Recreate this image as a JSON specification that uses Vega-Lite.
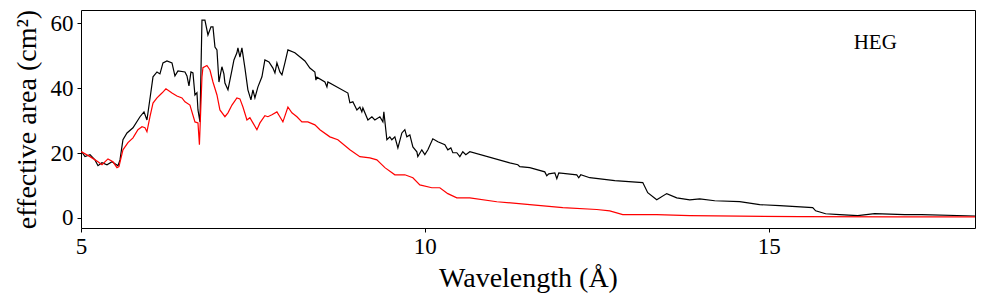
{
  "$schema": "https://vega.github.io/schema/vega-lite/v6.json",
  "width": 894,
  "height": 218,
  "autosize": {"type": "none"},
  "padding": {"left": 81, "top": 10, "right": 10, "bottom": 71},
  "background": "white",
  "config": {
    "view": {"stroke": "black", "strokeWidth": 1},
    "font": "Liberation Serif",
    "axis": {"grid": false, "domain": false, "tickColor": "black", "tickSize": 4, "labelColor": "black", "titleColor": "black", "labelFont": "Liberation Serif", "titleFont": "Liberation Serif", "labelFontSize": 23, "titleFontSize": 28, "titleFontWeight": "normal"}
  },
  "datasets": {
    "curves": [
      {"wavelength": 5.000, "area": 20.7, "curve": "upper"},
      {"wavelength": 5.058, "area": 18.9, "curve": "upper"},
      {"wavelength": 5.131, "area": 19.5, "curve": "upper"},
      {"wavelength": 5.203, "area": 17.9, "curve": "upper"},
      {"wavelength": 5.247, "area": 16.1, "curve": "upper"},
      {"wavelength": 5.305, "area": 17.0, "curve": "upper"},
      {"wavelength": 5.378, "area": 16.4, "curve": "upper"},
      {"wavelength": 5.451, "area": 17.3, "curve": "upper"},
      {"wavelength": 5.494, "area": 16.7, "curve": "upper"},
      {"wavelength": 5.538, "area": 16.1, "curve": "upper"},
      {"wavelength": 5.567, "area": 17.9, "curve": "upper"},
      {"wavelength": 5.610, "area": 24.1, "curve": "upper"},
      {"wavelength": 5.669, "area": 26.2, "curve": "upper"},
      {"wavelength": 5.756, "area": 27.8, "curve": "upper"},
      {"wavelength": 5.858, "area": 31.2, "curve": "upper"},
      {"wavelength": 5.916, "area": 32.7, "curve": "upper"},
      {"wavelength": 5.959, "area": 30.2, "curve": "upper"},
      {"wavelength": 6.017, "area": 38.9, "curve": "upper"},
      {"wavelength": 6.047, "area": 43.5, "curve": "upper"},
      {"wavelength": 6.105, "area": 45.0, "curve": "upper"},
      {"wavelength": 6.148, "area": 44.4, "curve": "upper"},
      {"wavelength": 6.192, "area": 47.8, "curve": "upper"},
      {"wavelength": 6.250, "area": 48.4, "curve": "upper"},
      {"wavelength": 6.323, "area": 47.8, "curve": "upper"},
      {"wavelength": 6.366, "area": 43.8, "curve": "upper"},
      {"wavelength": 6.410, "area": 45.3, "curve": "upper"},
      {"wavelength": 6.512, "area": 45.0, "curve": "upper"},
      {"wavelength": 6.541, "area": 43.8, "curve": "upper"},
      {"wavelength": 6.570, "area": 40.7, "curve": "upper"},
      {"wavelength": 6.599, "area": 45.0, "curve": "upper"},
      {"wavelength": 6.628, "area": 44.7, "curve": "upper"},
      {"wavelength": 6.657, "area": 37.9, "curve": "upper"},
      {"wavelength": 6.686, "area": 38.6, "curve": "upper"},
      {"wavelength": 6.701, "area": 33.3, "curve": "upper"},
      {"wavelength": 6.730, "area": 29.6, "curve": "upper"},
      {"wavelength": 6.759, "area": 61.0, "curve": "upper"},
      {"wavelength": 6.802, "area": 61.0, "curve": "upper"},
      {"wavelength": 6.846, "area": 56.4, "curve": "upper"},
      {"wavelength": 6.890, "area": 58.9, "curve": "upper"},
      {"wavelength": 6.919, "area": 58.9, "curve": "upper"},
      {"wavelength": 6.948, "area": 52.7, "curve": "upper"},
      {"wavelength": 6.977, "area": 51.8, "curve": "upper"},
      {"wavelength": 7.006, "area": 41.9, "curve": "upper"},
      {"wavelength": 7.049, "area": 46.6, "curve": "upper"},
      {"wavelength": 7.078, "area": 44.4, "curve": "upper"},
      {"wavelength": 7.093, "area": 41.6, "curve": "upper"},
      {"wavelength": 7.137, "area": 39.5, "curve": "upper"},
      {"wavelength": 7.195, "area": 45.6, "curve": "upper"},
      {"wavelength": 7.224, "area": 48.7, "curve": "upper"},
      {"wavelength": 7.267, "area": 50.9, "curve": "upper"},
      {"wavelength": 7.282, "area": 52.4, "curve": "upper"},
      {"wavelength": 7.311, "area": 49.6, "curve": "upper"},
      {"wavelength": 7.340, "area": 52.4, "curve": "upper"},
      {"wavelength": 7.384, "area": 46.2, "curve": "upper"},
      {"wavelength": 7.427, "area": 39.5, "curve": "upper"},
      {"wavelength": 7.471, "area": 36.4, "curve": "upper"},
      {"wavelength": 7.500, "area": 39.5, "curve": "upper"},
      {"wavelength": 7.529, "area": 37.0, "curve": "upper"},
      {"wavelength": 7.573, "area": 40.4, "curve": "upper"},
      {"wavelength": 7.631, "area": 43.5, "curve": "upper"},
      {"wavelength": 7.674, "area": 48.7, "curve": "upper"},
      {"wavelength": 7.733, "area": 48.1, "curve": "upper"},
      {"wavelength": 7.791, "area": 46.2, "curve": "upper"},
      {"wavelength": 7.820, "area": 44.7, "curve": "upper"},
      {"wavelength": 7.849, "area": 47.8, "curve": "upper"},
      {"wavelength": 7.892, "area": 45.0, "curve": "upper"},
      {"wavelength": 7.922, "area": 44.1, "curve": "upper"},
      {"wavelength": 7.965, "area": 47.8, "curve": "upper"},
      {"wavelength": 8.009, "area": 51.8, "curve": "upper"},
      {"wavelength": 8.110, "area": 50.9, "curve": "upper"},
      {"wavelength": 8.256, "area": 48.4, "curve": "upper"},
      {"wavelength": 8.328, "area": 46.2, "curve": "upper"},
      {"wavelength": 8.401, "area": 45.0, "curve": "upper"},
      {"wavelength": 8.416, "area": 42.5, "curve": "upper"},
      {"wavelength": 8.430, "area": 43.4, "curve": "upper"},
      {"wavelength": 8.547, "area": 41.9, "curve": "upper"},
      {"wavelength": 8.576, "area": 40.4, "curve": "upper"},
      {"wavelength": 8.590, "area": 41.9, "curve": "upper"},
      {"wavelength": 8.881, "area": 38.5, "curve": "upper"},
      {"wavelength": 8.910, "area": 35.5, "curve": "upper"},
      {"wavelength": 8.953, "area": 35.8, "curve": "upper"},
      {"wavelength": 9.012, "area": 33.3, "curve": "upper"},
      {"wavelength": 9.055, "area": 34.2, "curve": "upper"},
      {"wavelength": 9.084, "area": 32.7, "curve": "upper"},
      {"wavelength": 9.099, "area": 33.9, "curve": "upper"},
      {"wavelength": 9.172, "area": 30.2, "curve": "upper"},
      {"wavelength": 9.230, "area": 31.2, "curve": "upper"},
      {"wavelength": 9.273, "area": 30.2, "curve": "upper"},
      {"wavelength": 9.346, "area": 31.2, "curve": "upper"},
      {"wavelength": 9.390, "area": 29.6, "curve": "upper"},
      {"wavelength": 9.404, "area": 32.7, "curve": "upper"},
      {"wavelength": 9.448, "area": 24.1, "curve": "upper"},
      {"wavelength": 9.491, "area": 25.0, "curve": "upper"},
      {"wavelength": 9.520, "area": 24.1, "curve": "upper"},
      {"wavelength": 9.564, "area": 25.0, "curve": "upper"},
      {"wavelength": 9.608, "area": 21.6, "curve": "upper"},
      {"wavelength": 9.666, "area": 26.2, "curve": "upper"},
      {"wavelength": 9.709, "area": 27.2, "curve": "upper"},
      {"wavelength": 9.738, "area": 25.0, "curve": "upper"},
      {"wavelength": 9.782, "area": 25.6, "curve": "upper"},
      {"wavelength": 9.826, "area": 21.9, "curve": "upper"},
      {"wavelength": 9.884, "area": 20.4, "curve": "upper"},
      {"wavelength": 9.898, "area": 18.9, "curve": "upper"},
      {"wavelength": 9.956, "area": 21.0, "curve": "upper"},
      {"wavelength": 10.000, "area": 19.5, "curve": "upper"},
      {"wavelength": 10.044, "area": 21.0, "curve": "upper"},
      {"wavelength": 10.116, "area": 24.4, "curve": "upper"},
      {"wavelength": 10.189, "area": 23.5, "curve": "upper"},
      {"wavelength": 10.291, "area": 22.6, "curve": "upper"},
      {"wavelength": 10.334, "area": 21.0, "curve": "upper"},
      {"wavelength": 10.378, "area": 21.6, "curve": "upper"},
      {"wavelength": 10.407, "area": 20.1, "curve": "upper"},
      {"wavelength": 10.465, "area": 20.1, "curve": "upper"},
      {"wavelength": 10.509, "area": 18.9, "curve": "upper"},
      {"wavelength": 10.552, "area": 20.4, "curve": "upper"},
      {"wavelength": 10.596, "area": 19.5, "curve": "upper"},
      {"wavelength": 10.654, "area": 20.4, "curve": "upper"},
      {"wavelength": 11.235, "area": 17.0, "curve": "upper"},
      {"wavelength": 11.352, "area": 16.4, "curve": "upper"},
      {"wavelength": 11.381, "area": 15.8, "curve": "upper"},
      {"wavelength": 11.526, "area": 15.5, "curve": "upper"},
      {"wavelength": 11.744, "area": 14.2, "curve": "upper"},
      {"wavelength": 11.773, "area": 13.0, "curve": "upper"},
      {"wavelength": 11.802, "area": 13.6, "curve": "upper"},
      {"wavelength": 11.890, "area": 13.9, "curve": "upper"},
      {"wavelength": 11.919, "area": 12.1, "curve": "upper"},
      {"wavelength": 11.948, "area": 13.9, "curve": "upper"},
      {"wavelength": 12.209, "area": 13.3, "curve": "upper"},
      {"wavelength": 12.238, "area": 12.4, "curve": "upper"},
      {"wavelength": 12.267, "area": 13.3, "curve": "upper"},
      {"wavelength": 12.398, "area": 12.4, "curve": "upper"},
      {"wavelength": 12.762, "area": 11.5, "curve": "upper"},
      {"wavelength": 13.169, "area": 10.9, "curve": "upper"},
      {"wavelength": 13.241, "area": 7.8, "curve": "upper"},
      {"wavelength": 13.372, "area": 5.6, "curve": "upper"},
      {"wavelength": 13.517, "area": 7.5, "curve": "upper"},
      {"wavelength": 13.663, "area": 6.2, "curve": "upper"},
      {"wavelength": 13.852, "area": 5.6, "curve": "upper"},
      {"wavelength": 13.997, "area": 5.9, "curve": "upper"},
      {"wavelength": 14.215, "area": 5.3, "curve": "upper"},
      {"wavelength": 14.578, "area": 5.0, "curve": "upper"},
      {"wavelength": 14.869, "area": 4.1, "curve": "upper"},
      {"wavelength": 15.160, "area": 3.8, "curve": "upper"},
      {"wavelength": 15.640, "area": 3.2, "curve": "upper"},
      {"wavelength": 15.683, "area": 2.2, "curve": "upper"},
      {"wavelength": 15.828, "area": 1.3, "curve": "upper"},
      {"wavelength": 16.032, "area": 1.0, "curve": "upper"},
      {"wavelength": 16.294, "area": 0.7, "curve": "upper"},
      {"wavelength": 16.541, "area": 1.3, "curve": "upper"},
      {"wavelength": 16.977, "area": 1.0, "curve": "upper"},
      {"wavelength": 17.224, "area": 1.0, "curve": "upper"},
      {"wavelength": 18.000, "area": 0.6, "curve": "upper"},
      {"wavelength": 5.000, "area": 20.5, "curve": "lower"},
      {"wavelength": 5.131, "area": 18.9, "curve": "lower"},
      {"wavelength": 5.247, "area": 17.3, "curve": "lower"},
      {"wavelength": 5.305, "area": 16.4, "curve": "lower"},
      {"wavelength": 5.392, "area": 18.2, "curve": "lower"},
      {"wavelength": 5.465, "area": 17.3, "curve": "lower"},
      {"wavelength": 5.523, "area": 15.5, "curve": "lower"},
      {"wavelength": 5.552, "area": 15.8, "curve": "lower"},
      {"wavelength": 5.610, "area": 21.0, "curve": "lower"},
      {"wavelength": 5.683, "area": 23.2, "curve": "lower"},
      {"wavelength": 5.756, "area": 24.7, "curve": "lower"},
      {"wavelength": 5.828, "area": 27.2, "curve": "lower"},
      {"wavelength": 5.887, "area": 28.1, "curve": "lower"},
      {"wavelength": 5.930, "area": 27.8, "curve": "lower"},
      {"wavelength": 5.959, "area": 26.6, "curve": "lower"},
      {"wavelength": 6.003, "area": 31.2, "curve": "lower"},
      {"wavelength": 6.047, "area": 35.4, "curve": "lower"},
      {"wavelength": 6.105, "area": 37.0, "curve": "lower"},
      {"wavelength": 6.177, "area": 38.5, "curve": "lower"},
      {"wavelength": 6.235, "area": 39.8, "curve": "lower"},
      {"wavelength": 6.323, "area": 38.5, "curve": "lower"},
      {"wavelength": 6.395, "area": 37.6, "curve": "lower"},
      {"wavelength": 6.468, "area": 37.0, "curve": "lower"},
      {"wavelength": 6.512, "area": 35.8, "curve": "lower"},
      {"wavelength": 6.584, "area": 34.8, "curve": "lower"},
      {"wavelength": 6.657, "area": 29.6, "curve": "lower"},
      {"wavelength": 6.701, "area": 29.3, "curve": "lower"},
      {"wavelength": 6.722, "area": 22.6, "curve": "lower"},
      {"wavelength": 6.759, "area": 43.5, "curve": "lower"},
      {"wavelength": 6.773, "area": 46.3, "curve": "lower"},
      {"wavelength": 6.831, "area": 47.0, "curve": "lower"},
      {"wavelength": 6.875, "area": 45.6, "curve": "lower"},
      {"wavelength": 6.919, "area": 41.9, "curve": "lower"},
      {"wavelength": 6.977, "area": 37.9, "curve": "lower"},
      {"wavelength": 7.020, "area": 33.3, "curve": "lower"},
      {"wavelength": 7.093, "area": 31.2, "curve": "lower"},
      {"wavelength": 7.137, "area": 32.4, "curve": "lower"},
      {"wavelength": 7.195, "area": 34.8, "curve": "lower"},
      {"wavelength": 7.267, "area": 37.0, "curve": "lower"},
      {"wavelength": 7.311, "area": 36.7, "curve": "lower"},
      {"wavelength": 7.355, "area": 34.2, "curve": "lower"},
      {"wavelength": 7.413, "area": 30.2, "curve": "lower"},
      {"wavelength": 7.456, "area": 30.9, "curve": "lower"},
      {"wavelength": 7.500, "area": 29.3, "curve": "lower"},
      {"wavelength": 7.558, "area": 27.2, "curve": "lower"},
      {"wavelength": 7.602, "area": 29.3, "curve": "lower"},
      {"wavelength": 7.674, "area": 31.5, "curve": "lower"},
      {"wavelength": 7.718, "area": 31.2, "curve": "lower"},
      {"wavelength": 7.776, "area": 31.8, "curve": "lower"},
      {"wavelength": 7.849, "area": 32.7, "curve": "lower"},
      {"wavelength": 7.892, "area": 31.2, "curve": "lower"},
      {"wavelength": 7.936, "area": 29.6, "curve": "lower"},
      {"wavelength": 8.009, "area": 34.2, "curve": "lower"},
      {"wavelength": 8.067, "area": 32.4, "curve": "lower"},
      {"wavelength": 8.140, "area": 31.2, "curve": "lower"},
      {"wavelength": 8.212, "area": 29.6, "curve": "lower"},
      {"wavelength": 8.299, "area": 29.6, "curve": "lower"},
      {"wavelength": 8.401, "area": 28.7, "curve": "lower"},
      {"wavelength": 8.474, "area": 27.2, "curve": "lower"},
      {"wavelength": 8.619, "area": 25.0, "curve": "lower"},
      {"wavelength": 8.735, "area": 24.1, "curve": "lower"},
      {"wavelength": 8.910, "area": 21.0, "curve": "lower"},
      {"wavelength": 9.055, "area": 18.9, "curve": "lower"},
      {"wavelength": 9.201, "area": 18.5, "curve": "lower"},
      {"wavelength": 9.302, "area": 17.9, "curve": "lower"},
      {"wavelength": 9.419, "area": 15.5, "curve": "lower"},
      {"wavelength": 9.564, "area": 13.3, "curve": "lower"},
      {"wavelength": 9.709, "area": 13.3, "curve": "lower"},
      {"wavelength": 9.826, "area": 12.4, "curve": "lower"},
      {"wavelength": 9.927, "area": 10.2, "curve": "lower"},
      {"wavelength": 10.102, "area": 9.3, "curve": "lower"},
      {"wavelength": 10.218, "area": 9.3, "curve": "lower"},
      {"wavelength": 10.334, "area": 7.5, "curve": "lower"},
      {"wavelength": 10.465, "area": 6.2, "curve": "lower"},
      {"wavelength": 10.654, "area": 6.2, "curve": "lower"},
      {"wavelength": 11.047, "area": 5.0, "curve": "lower"},
      {"wavelength": 11.526, "area": 4.1, "curve": "lower"},
      {"wavelength": 12.006, "area": 3.2, "curve": "lower"},
      {"wavelength": 12.500, "area": 2.6, "curve": "lower"},
      {"wavelength": 12.689, "area": 2.2, "curve": "lower"},
      {"wavelength": 12.878, "area": 1.0, "curve": "lower"},
      {"wavelength": 13.372, "area": 1.0, "curve": "lower"},
      {"wavelength": 13.852, "area": 0.7, "curve": "lower"},
      {"wavelength": 14.578, "area": 0.55, "curve": "lower"},
      {"wavelength": 15.451, "area": 0.4, "curve": "lower"},
      {"wavelength": 16.904, "area": 0.35, "curve": "lower"},
      {"wavelength": 18.000, "area": 0.3, "curve": "lower"}
    ]
  },
  "layer": [
    {
      "data": {"name": "curves"},
      "mark": {"type": "line", "strokeWidth": 1.2, "clip": true},
      "encoding": {
        "x": {"field": "wavelength", "type": "quantitative", "scale": {"domain": [5, 18], "nice": false, "zero": false}, "axis": {"values": [5, 10, 15], "format": "d", "title": "Wavelength (Å)", "labelPadding": 3, "titlePadding": 6, "labelFlush": false}},
        "y": {"field": "area", "type": "quantitative", "scale": {"domain": [-3.1, 64.1], "nice": false, "zero": false}, "axis": {"values": [0, 20, 40, 60], "format": "d", "title": "effective area (cm²)", "labelPadding": 4, "titlePadding": 9}},
        "color": {"field": "curve", "type": "nominal", "scale": {"domain": ["upper", "lower"], "range": ["#000000", "#ff0000"]}, "legend": null}
      }
    },
    {
      "data": {"values": [{"label": "HEG"}]},
      "mark": {"type": "text", "font": "Liberation Serif", "fontSize": 21, "color": "black", "baseline": "middle", "align": "center"},
      "encoding": {
        "x": {"datum": 16.55, "type": "quantitative"},
        "y": {"datum": 54.0, "type": "quantitative"},
        "text": {"field": "label"}
      }
    }
  ]
}
